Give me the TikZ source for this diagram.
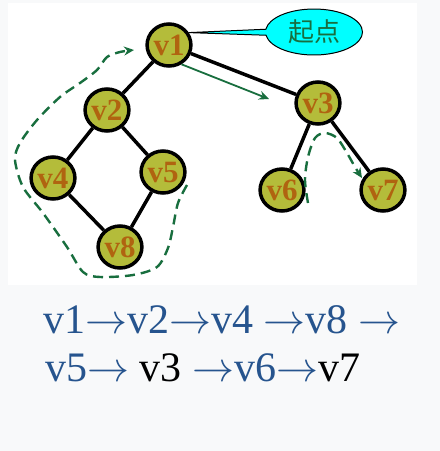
\documentclass[tikz,border=0pt]{standalone}
\usepackage{fix-cm}
\usepackage{fontspec}
\setmainfont{Liberation Serif}
\newfontfamily\cjkfont{Noto Sans CJK SC}
\usepackage{xcolor}
\usetikzlibrary{shapes.geometric}
\usetikzlibrary{shapes.callouts}
\usetikzlibrary{arrows.meta}

\definecolor{vfill}{RGB}{180,188,58}
\definecolor{vtext}{RGB}{176,100,16}
\definecolor{walkgreen}{RGB}{24,110,62}
\definecolor{seqblue}{RGB}{38,84,142}
\definecolor{bggray}{RGB}{248,249,250}
\definecolor{calloutcyan}{RGB}{0,255,255}

\newcommand{\ra}{$\rightarrow$}

\tikzset{
    vertex/.style = {ellipse, draw, line width = 3.5pt, fill = vfill, minimum width = 40pt, minimum height = 42pt, inner sep = 0pt, text = vtext, font = \fontsize{31}{31}\selectfont\bfseries},
    edge/.style = {line width = 3.5pt},
    walk/.style = {walkgreen, line width = 2.4pt, dash pattern = on 10pt off 6pt, -{Stealth[length = 10pt, width = 9pt]}},
    seq/.style = {anchor = base west, inner sep = 0pt, text = seqblue, font = \fontsize{42}{42}\selectfont}
}

\begin{document}
\begin{tikzpicture}[x = 1pt, y = 1pt]
    \fill[bggray] (0,0) rectangle (440,-451);
    \fill[white] (8,-3) rectangle (417,-285);

    \begin{scope}
        \node[vertex] (v1) at (169,-45) {v1};
        \node[vertex] (v2) at (107,-110) {v2};
        \node[vertex] (v3) at (318,-103) {v3};
        \node[vertex] (v4) at (53,-178) {v4};
        \node[vertex] (v5) at (163,-172) {v5};
        \node[vertex] (v6) at (282,-190) {v6};
        \node[vertex] (v7) at (383,-190) {v7};
        \node[vertex] (v8) at (120,-247) {v8};

        \draw[edge] (v1) -- (v2);
        \draw[edge] (v1) -- (v3);
        \draw[edge] (v2) -- (v4);
        \draw[edge] (v2) -- (v5);
        \draw[edge] (v4) -- (v8);
        \draw[edge] (v5) -- (v8);
        \draw[edge] (v3) -- (v6);
        \draw[edge] (v3) -- (v7);

        \node[ellipse callout, draw, line width = 1pt, fill = calloutcyan, minimum width = 97pt, minimum height = 46pt, callout absolute pointer = (v1.32), text = walkgreen, font = \cjkfont\fontsize{26}{26}\selectfont] (start) at (314,-32) {起点};
    \end{scope}

    % traversal
    \coordinate (toright) at (269,-99);
    \draw[walkgreen, line width = 1.8pt, -{Stealth[length = 10pt, width = 9pt]}] (v1.-57) -- (toright);
    \draw[walk] plot[smooth] coordinates {(187,-185) (178,-203) (173,-227) (168,-248) (157,-267) (133,-275) (100,-277) (83,-272) (67,-247) (43,-213) (23,-187) (15,-160) (20,-143) (37,-120) (60,-97) (80,-83) (97,-70) (107,-57) (120,-52) (134,-50)};
    \draw[walk] plot[smooth] coordinates {(308,-203) (305,-180) (308,-157) (315,-138) (325,-133) (337,-138) (347,-153) (355,-167) (362,-178)};

    \node[seq] (line1) at (43,-333) {v1\ra v2\ra v4 \ra v8 \ra};
    \node[seq] (line2) at (45,-381) {v5\ra{} {\color{black}v3} \ra v6\ra{\color{black}v7}};
\end{tikzpicture}
\end{document}
